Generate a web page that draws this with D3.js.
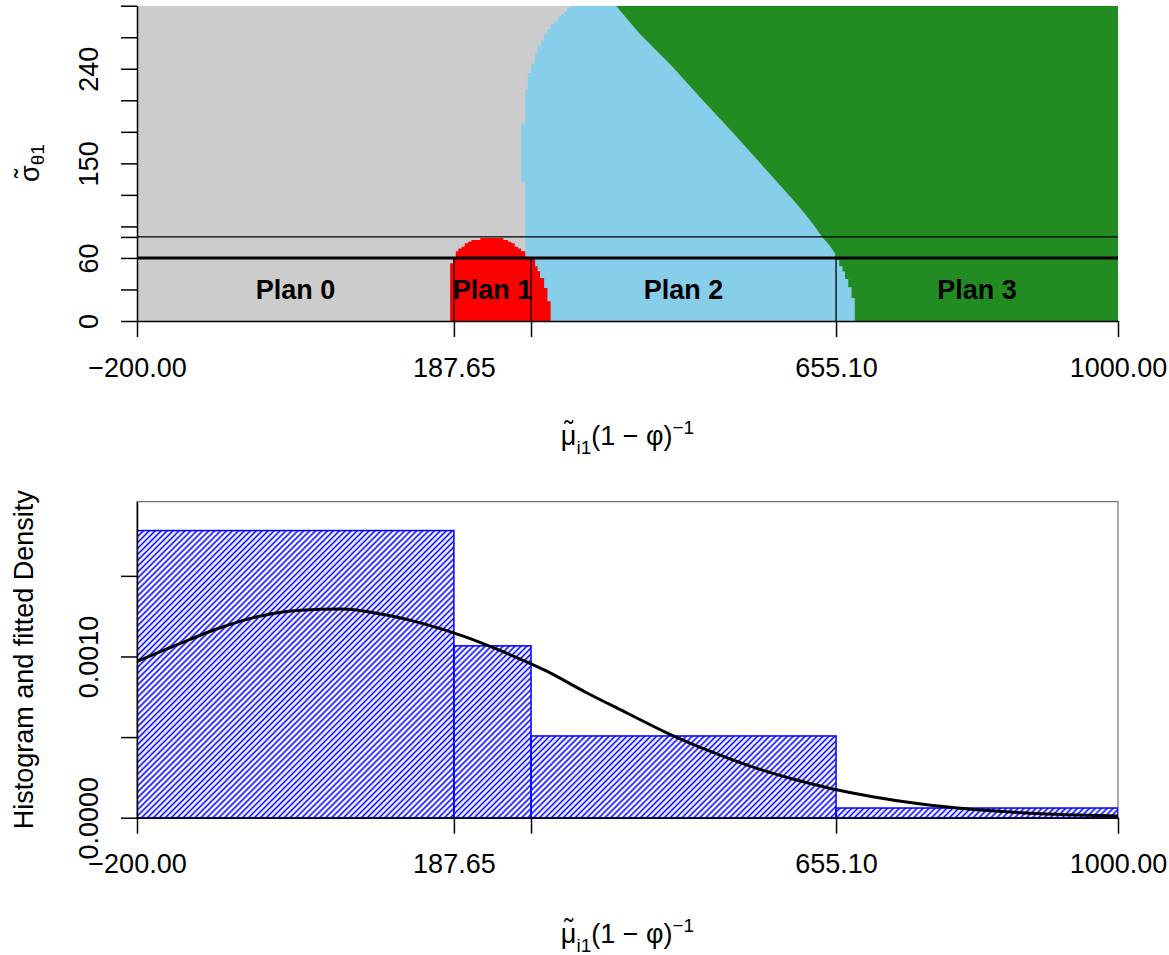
<!DOCTYPE html>
<html>
<head>
<meta charset="utf-8">
<script src="https://cdn.jsdelivr.net/npm/d3@7"></script>
<style>
body { margin: 0; background: #fff; }
text { font-family: "Liberation Sans", Arial, sans-serif; fill: #000; }
</style>
</head>
<body>
<svg id="chart" width="1169" height="955"></svg>
<script>
// ---- data ----
var xTicks = [-200, 187.65, 282, 655.10, 1000];
var xTickLabels = ["\u2212200.00", "187.65", "", "655.10", "1000.00"];
var sigmaTicks = [0, 30, 60, 80, 90, 120, 150, 180, 210, 240, 270, 300];
var sigmaTickLabels = ["0", "", "60", "", "", "", "150", "", "", "240", "", ""];
var densTicks = [0, 0.0005, 0.0010, 0.0015];
var densTickLabels = ["0.0000", "", "0.0010", ""];

var planNames = ["Plan 0", "Plan 1", "Plan 2", "Plan 3"];
var planCuts = [-200, 187.65, 282, 655.10, 1000];
var sigmaLines = [60, 80];

// left edge of plan 2 region: [sigma from, x]
var plan2Left = [[0, 275], [132, 270], [188, 275], [220, 278], [236, 282], [245, 287],
  [255, 290], [262, 294], [267, 298], [273, 302], [278, 306], [282, 310], [285, 315],
  [290, 319], [292, 322], [294, 326], [298, 331]];
// plan 3 edge, upper part: [sigma, x]
var plan3Edge = [[300, 386], [274, 414], [242, 455], [210, 492], [179, 529], [147, 566],
  [115, 603], [102, 617], [90, 629], [80, 638], [72, 647], [64, 654]];
// plan 3 edge, lower part: [sigma from, x]
var plan3Steps = [[0, 678], [22, 674], [32, 670], [40, 666], [47, 663], [52, 659], [58, 654]];
// plan 1 region rows: [sigma from, x left, x right]
var plan1Rows = [[0, 183, 306], [18.7, 183, 302], [31.4, 183, 298], [41, 183, 293],
  [47.3, 183, 290], [52, 183, 287], [55, 187, 287], [60, 190, 279], [61.2, 190, 275],
  [66.3, 193, 270], [69, 197, 266], [70.7, 201, 262], [74, 205, 258], [75.5, 209, 254],
  [77, 220, 248]];
var plan1Top = 79;

var histBreaks = [-200, 187.65, 282, 655.10, 1000];
var histDensity = [0.001781, 0.001066, 0.000507, 0.00006];

var fitX = [-200, -150, -100, -50, 0, 50, 100, 150, 200, 250, 300, 350, 400, 450, 500,
  550, 600, 650, 700, 750, 800, 850, 900, 950, 1000];
var fitY = [0.000969, 0.001075, 0.001175, 0.001250, 0.001287, 0.001294, 0.001262, 0.001204,
  0.001125, 0.001025, 0.000912, 0.000775, 0.000648, 0.000522, 0.000414, 0.000320, 0.000243,
  0.000180, 0.000130, 0.000091, 0.000062, 0.000041, 0.000026, 0.000016, 0.000010];

// ---- layout ----
var FONT = "Liberation Sans, Arial, sans-serif";
var FS = 27, SUBFS = 19;
var planColors = ["#cccccc", "#ff0000", "#87ceeb", "#228b22"];
var svg = d3.select("#chart");

var x = d3.scaleLinear().domain([-200, 1000]).range([137, 1118]);
var ySig = d3.scaleLinear().domain([0, 300]).range([321, 5.7]);
var yDen = d3.scaleLinear().domain([0, 0.00196]).range([817.7, 501.7]);

var defs = svg.append("defs");
defs.append("clipPath").attr("id", "clipTop").append("rect")
  .attr("x", x(-200)).attr("y", ySig(300)).attr("width", x(1000) - x(-200)).attr("height", ySig(0) - ySig(300));
defs.append("clipPath").attr("id", "clipBot").append("rect")
  .attr("x", x(-200)).attr("y", yDen(0.00196)).attr("width", x(1000) - x(-200)).attr("height", yDen(0) - yDen(0.00196));
var hatch = defs.append("pattern").attr("id", "hatch").attr("patternUnits", "userSpaceOnUse")
  .attr("width", 4.2).attr("height", 4.2).attr("patternTransform", "rotate(45)");
hatch.append("line").attr("x1", 2.1).attr("y1", -1).attr("x2", 2.1).attr("y2", 6)
  .attr("stroke", "#0000ff").attr("stroke-width", 1.6);

function stepPoints(steps, top) {
  var pts = [];
  steps.forEach(function(s, i) {
    var sTo = i < steps.length - 1 ? steps[i + 1][0] : top;
    pts.push([x(s[1]), ySig(s[0])], [x(s[1]), ySig(sTo)]);
  });
  return pts;
}
function plan3Boundary() {
  var pts = plan3Edge.map(function(p) { return [x(p[1]), ySig(p[0])]; });
  return pts.concat(stepPoints(plan3Steps, 64).reverse());
}
function polygon(pts) {
  return d3.line()(pts) + "Z";
}

// ---- top panel ----
var topG = svg.append("g").attr("clip-path", "url(#clipTop)");
topG.append("rect")
  .attr("x", x(-200)).attr("y", ySig(300))
  .attr("width", x(1000) - x(-200)).attr("height", ySig(0) - ySig(300))
  .attr("fill", planColors[0]);

var bluePts = stepPoints(plan2Left, 300).concat(plan3Boundary());
topG.append("path").attr("d", polygon(bluePts)).attr("fill", planColors[2]);

var greenPts = plan3Boundary().concat([[x(1000), ySig(0)], [x(1000), ySig(300)]]);
topG.append("path").attr("d", polygon(greenPts)).attr("fill", planColors[3]);

var redLeft = stepPoints(plan1Rows.map(function(r) { return [r[0], r[1]]; }), plan1Top);
var redRight = stepPoints(plan1Rows.map(function(r) { return [r[0], r[2]]; }), plan1Top).reverse();
topG.append("path").attr("d", polygon(redLeft.concat(redRight))).attr("fill", planColors[1]);

sigmaLines.forEach(function(s) {
  topG.append("line")
    .attr("x1", x(-200)).attr("x2", x(1000)).attr("y1", ySig(s)).attr("y2", ySig(s))
    .attr("stroke", "#000").attr("stroke-width", s === 60 ? 3 : 1.3);
});
planCuts.slice(1, -1).forEach(function(c) {
  topG.append("line")
    .attr("x1", x(c)).attr("x2", x(c)).attr("y1", ySig(0)).attr("y2", ySig(60))
    .attr("stroke", "#000").attr("stroke-width", 1.3);
});
planNames.forEach(function(name, i) {
  svg.append("text")
    .attr("x", x((planCuts[i] + planCuts[i + 1]) / 2)).attr("y", ySig(30) + 10)
    .attr("text-anchor", "middle").attr("font-size", FS).attr("font-weight", "bold")
    .text(name);
});

// ---- bottom panel ----
svg.append("rect")
  .attr("x", x(-200)).attr("y", yDen(0.00196))
  .attr("width", x(1000) - x(-200)).attr("height", yDen(0) - yDen(0.00196))
  .attr("fill", "none").attr("stroke", "#555").attr("stroke-width", 1);

var botG = svg.append("g").attr("clip-path", "url(#clipBot)");
botG.selectAll("rect.bar").data(histDensity).enter().append("rect")
  .attr("class", "bar")
  .attr("x", function(d, i) { return x(histBreaks[i]); })
  .attr("width", function(d, i) { return x(histBreaks[i + 1]) - x(histBreaks[i]); })
  .attr("y", function(d) { return yDen(d); })
  .attr("height", function(d) { return yDen(0) - yDen(d); })
  .attr("fill", "url(#hatch)").attr("stroke", "#0000ff").attr("stroke-width", 1.5);

botG.append("path")
  .attr("d", d3.line()
    .x(function(d, i) { return x(fitX[i]); })
    .y(function(d) { return yDen(d); })
    .curve(d3.curveMonotoneX)(fitY))
  .attr("fill", "none").attr("stroke", "#000").attr("stroke-width", 3);

// ---- axes ----
function styleAxis(g) {
  g.attr("font-size", FS).attr("font-family", FONT);
  g.selectAll("path, line").attr("stroke", "#000").attr("stroke-width", 1.5);
  g.selectAll("text").attr("fill", "#000");
}
function rotateLabels(g) {
  g.selectAll(".tick text")
    .attr("x", 0).attr("dy", null).attr("text-anchor", "middle")
    .attr("transform", "translate(-39,0) rotate(-90)");
}

[321, 817.7].forEach(function(yy) {
  svg.append("g").attr("transform", "translate(0," + yy + ")")
    .call(d3.axisBottom(x).tickValues(xTicks)
      .tickFormat(function(d, i) { return xTickLabels[i]; })
      .tickSize(16).tickSizeOuter(0).tickPadding(20.5))
    .call(styleAxis);
});

svg.append("g").attr("transform", "translate(137,0)")
  .call(d3.axisLeft(ySig).tickValues(sigmaTicks)
    .tickFormat(function(d, i) { return sigmaTickLabels[i]; })
    .tickSize(16).tickSizeOuter(0))
  .call(styleAxis).call(rotateLabels);

svg.append("g").attr("transform", "translate(137,0)")
  .call(d3.axisLeft(yDen).tickValues(densTicks)
    .tickFormat(function(d, i) { return densTickLabels[i]; })
    .tickSize(16).tickSizeOuter(0))
  .call(styleAxis).call(rotateLabels);

// ---- titles: base letter with a tilde, subscript, optional rest and superscript ----
function mathTitle(gx, gy, angle, base, sub, subShift, rest, sup) {
  var t = svg.append("text")
    .attr("transform", "translate(" + gx + "," + gy + ") rotate(" + angle + ")")
    .attr("text-anchor", "middle").attr("font-size", FS);
  var b = t.append("tspan").text(base);
  var tl = t.append("tspan").attr("dy", -5).text("\u02dc");
  var s = t.append("tspan").attr("font-size", SUBFS).attr("dy", 5 + subShift).text(sub);
  if (rest) {
    t.append("tspan").attr("dy", -subShift).text(rest);
    t.append("tspan").attr("font-size", SUBFS).attr("dy", -11).text(sup);
  }
  var wb = b.node().getComputedTextLength();
  var wt = tl.node().getComputedTextLength();
  tl.attr("dx", -(wb + wt) / 2);
  s.attr("dx", (wb - wt) / 2);
}

mathTitle(627.5, 445, 0, "\u03bc", "i1", 9, "(1 \u2212 \u03c6)", "\u22121");
mathTitle(627.5, 943, 0, "\u03bc", "i1", 9, "(1 \u2212 \u03c6)", "\u22121");
mathTitle(39, 163, -90, "\u03c3", "\u03b81", 5);

svg.append("text")
  .attr("transform", "translate(33,659.7) rotate(-90)")
  .attr("text-anchor", "middle").attr("font-size", FS)
  .text("Histogram and fitted Density");
</script>
</body>
</html>
